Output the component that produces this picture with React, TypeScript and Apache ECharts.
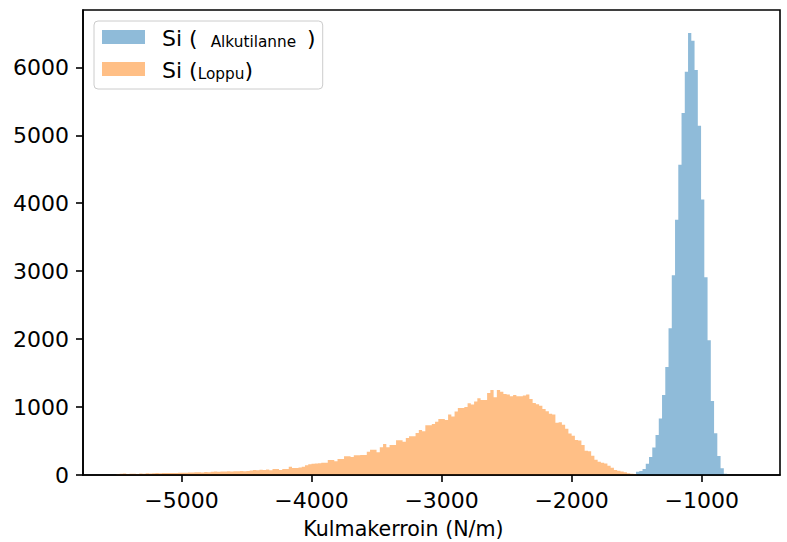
import React, { useEffect, useRef } from "react";
import * as echarts from "echarts";

// Histogram bin layout (data units, N/m)
const binWidth = 25;
const blueStart = -1505;
const orangeStart = -5500;

// Si (Alkutilanne) counts per bin
const blueCounts = [
  49, 59, 88, 167, 265, 403, 589, 830, 1178, 1591, 2161, 2941, 3756, 4566,
  5327, 5936, 6506, 6393, 5961, 5141, 4055, 2912, 1984, 1090, 614, 280, 98, 20,
];

// Si (Loppu) counts per bin
const orangeCounts = [
  12, 18, 22, 15, 18, 20, 16, 22, 20, 25,
  22, 26, 28, 26, 28, 30, 29, 31, 30, 33,
  34, 32, 36, 38, 40, 42, 38, 44, 42, 48,
  50, 47, 52, 50, 54, 52, 56, 55, 58, 54,
  60, 68, 72, 70, 76, 74, 80, 70, 88, 88,
  74, 88, 88, 123, 103, 103, 110, 123, 142, 160,
  167, 170, 172, 182, 182, 221, 221, 201, 236, 236,
  275, 275, 265, 290, 290, 295, 295, 344, 373, 373,
  334, 408, 457, 408, 442, 442, 511, 510, 491, 545,
  570, 570, 619, 663, 644, 732, 732, 751, 785, 825,
  825, 810, 890, 860, 933, 987, 987, 1000, 1056, 1036,
  1080, 1130, 1105, 1105, 1208, 1252, 1144, 1252, 1227, 1193,
  1183, 1159, 1178, 1159, 1159, 1170, 1183, 1119, 1061, 1040,
  1021, 972, 938, 900, 890, 770, 776, 740, 680, 610,
  579, 516, 506, 442, 358, 349, 285, 226, 196, 182,
  170, 137, 108, 74, 64, 50, 39, 25, 20, 15,
];

const xTicks = [-5000, -4000, -3000, -2000, -1000];
const yTicks = [0, 1000, 2000, 3000, 4000, 5000, 6000];
const xName = "Kulmakerroin (N/m)";
const seriesNames = ["Si (Alkutilanne)", "Si (Loppu)"];

const BLUE = "rgba(31,119,180,0.5)";
const ORANGE = "rgba(255,127,14,0.5)";
const FONT = "DejaVu Sans";

function toBins(start: number, counts: number[]) {
  return counts.map((c, i) => [start + i * binWidth, start + (i + 1) * binWidth, c]);
}

function makeRender(color: string) {
  return (params: any, api: any) => {
    if (params.dataIndexInside !== 0) return null;
    const n = params.dataInsideLength;
    const pts: number[][] = [];
    pts.push(api.coord([api.value(0, 0), 0]));
    for (let i = 0; i < n; i++) {
      const x0 = api.value(0, i);
      const x1 = api.value(1, i);
      const c = api.value(2, i);
      pts.push(api.coord([x0, c]));
      pts.push(api.coord([x1, c]));
    }
    pts.push(api.coord([api.value(1, n - 1), 0]));
    return {
      type: "polygon",
      shape: { points: pts },
      style: { fill: color },
    };
  };
}

const fmt = (v: number) => (v < 0 ? "\u2212" + Math.abs(v) : String(v));

export default function App() {
  const ref = useRef<HTMLDivElement>(null);
  useEffect(() => {
    if (!ref.current) return;
    const chart = echarts.init(ref.current, undefined, { renderer: "svg" });
    chart.setOption({
      animation: false,
      backgroundColor: "#ffffff",
      grid: {
        show: true,
        left: 83,
        top: 10,
        width: 697,
        height: 465,
        borderColor: "#000",
        borderWidth: 1.6,
        containLabel: false,
        outerBoundsMode: "none",
      },
      legend: {
        orient: "vertical",
        left: 94,
        top: 21,
        padding: [6, 7, 8, 8],
        itemGap: 10,
        itemWidth: 43,
        itemHeight: 14,
        backgroundColor: "rgba(255,255,255,0.8)",
        borderColor: "#cccccc",
        borderWidth: 1,
        borderRadius: 4,
        data: [
          { name: seriesNames[0], icon: "rect" },
          { name: seriesNames[1], icon: "rect" },
        ],
        formatter: (name: string) =>
          name === seriesNames[0]
            ? "{a0|Si (}{b1|Alkutilanne}{a|)}"
            : "{a0|Si (}{b|Loppu}{a|)}",
        textStyle: {
          fontFamily: FONT,
          color: "#000",
          rich: {
            a0: { fontSize: 22, fontFamily: FONT, color: "#000", padding: [0, 0, 0, 12], lineHeight: 24, verticalAlign: "bottom" },
            a: { fontSize: 22, fontFamily: FONT, color: "#000", lineHeight: 24, verticalAlign: "bottom" },
            b: { fontSize: 15.3, fontFamily: FONT, color: "#000", lineHeight: 20, verticalAlign: "bottom" },
            b1: { fontSize: 15.3, fontFamily: FONT, color: "#000", lineHeight: 20, verticalAlign: "bottom", padding: [0, 11, 0, 13] },
          },
        },
        z: 20,
      },
      xAxis: {
        type: "value",
        min: -5757,
        max: -398,
        z: 10,
        name: xName,
        nameLocation: "middle",
        nameGap: 43,
        nameTextStyle: {
          fontFamily: FONT,
          fontSize: 20.6,
          color: "#000",
          padding: [0, 56, 0, 0],
        },
        splitLine: { show: false },
        axisLine: { show: true, onZero: false, lineStyle: { color: "#000", width: 1.6 } },
        axisTick: {
          show: true,
          length: 7,
          customValues: xTicks,
          lineStyle: { color: "#000", width: 1.6 },
        },
        axisLabel: {
          customValues: xTicks,
          formatter: fmt,
          fontFamily: FONT,
          fontSize: 22,
          color: "#000",
          margin: 14,
        },
      },
      yAxis: {
        type: "value",
        min: 0,
        max: 6844,
        z: 10,
        splitLine: { show: false },
        axisLine: { show: true, onZero: false, lineStyle: { color: "#000", width: 1.6 } },
        axisTick: {
          show: true,
          length: 7,
          customValues: yTicks,
          lineStyle: { color: "#000", width: 1.6 },
        },
        axisLabel: {
          customValues: yTicks,
          formatter: fmt,
          fontFamily: FONT,
          fontSize: 22,
          color: "#000",
          margin: 14,
        },
      },
      series: [
        {
          name: seriesNames[0],
          type: "custom",
          renderItem: makeRender(BLUE),
          itemStyle: { color: BLUE },
          encode: { x: [0, 1], y: 2 },
          data: toBins(blueStart, blueCounts),
          z: 2,
        },
        {
          name: seriesNames[1],
          type: "custom",
          renderItem: makeRender(ORANGE),
          itemStyle: { color: ORANGE },
          encode: { x: [0, 1], y: 2 },
          data: toBins(orangeStart, orangeCounts),
          z: 3,
        },
      ],
    });
    return () => chart.dispose();
  }, []);
  return (
    <div
      ref={ref}
      style={{ position: "fixed", left: 0, top: 0, width: 787, height: 542 }}
    />
  );
}
